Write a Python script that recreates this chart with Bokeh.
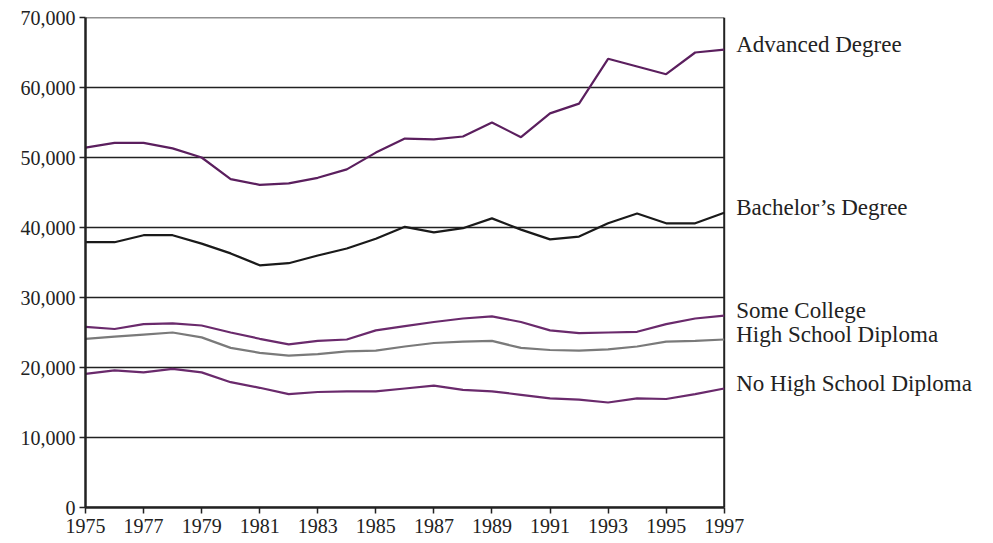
from bokeh.plotting import figure
from bokeh.models import Range1d, FixedTicker, NumeralTickFormatter
from bokeh.core.properties import value
from bokeh.embed import file_html
from bokeh.resources import INLINE

years = list(range(1975, 1998))
advanced = [51400, 52100, 52100, 51300, 50000, 46900, 46100, 46300, 47100, 48300, 50700, 52700,
            52600, 53000, 55000, 52900, 56300, 57700, 64100, 63000, 61900, 65000, 65400]
bachelor = [37900, 37900, 38900, 38900, 37700, 36300, 34600, 34900, 36000, 37000, 38400, 40100,
            39300, 39900, 41300, 39700, 38300, 38700, 40600, 42000, 40600, 40600, 42100]
some_college = [25800, 25500, 26200, 26300, 26000, 25000, 24100, 23300, 23800, 24000, 25300, 25900,
                26500, 27000, 27300, 26500, 25300, 24900, 25000, 25100, 26200, 27000, 27400]
hs_diploma = [24100, 24400, 24700, 25000, 24300, 22800, 22100, 21700, 21900, 22300, 22400, 23000,
              23500, 23700, 23800, 22800, 22500, 22400, 22600, 23000, 23700, 23800, 24000]
no_hs = [19100, 19600, 19300, 19800, 19300, 17900, 17100, 16200, 16500, 16600, 16600, 17000,
         17400, 16800, 16600, 16100, 15600, 15400, 15000, 15600, 15500, 16200, 17000]

series_names = ["Advanced Degree", "Bachelor\u2019s Degree", "Some College",
                "High School Diploma", "No High School Diploma"]
series_values = [advanced, bachelor, some_college, hs_diploma, no_hs]
series_colors = ["#5b1f5e", "#1a1a1a", "#6a2a6c", "#7a7a7a", "#6a2a6c"]

x_ticks = list(range(1975, 1998, 2))
y_ticks = list(range(0, 70001, 10000))

FONT = "Liberation Serif"
INK = "#222222"

x0, x1 = years[0], years[-1]
# extra room to the right of the last year for the series labels
x_end = x1 + 9.0

p = figure(width=990, height=540, output_backend="svg", toolbar_location=None,
           x_range=Range1d(x0, x_end), y_range=Range1d(y_ticks[0], y_ticks[-1]),
           min_border_left=85, min_border_right=5, min_border_top=17, min_border_bottom=33)
p.outline_line_color = None
p.xgrid.visible = False
p.ygrid.visible = False

# horizontal rules at each y tick, spanning the data years only
p.segment(x0=[x0] * len(y_ticks), x1=[x1] * len(y_ticks), y0=y_ticks, y1=y_ticks,
          line_color=INK, line_width=1.5)
# right frame edge
p.segment(x0=[x1], x1=[x1], y0=[y_ticks[0]], y1=[y_ticks[-1]], line_color=INK, line_width=2)

for vals, col in zip(series_values, series_colors):
    p.line(years, vals, line_color=col, line_width=2.2)

p.xaxis.ticker = FixedTicker(ticks=x_ticks)
p.xaxis.bounds = (x0, x1)
p.yaxis.ticker = FixedTicker(ticks=y_ticks)
p.yaxis.formatter = NumeralTickFormatter(format="0,0")
for ax in (p.xaxis, p.yaxis):
    ax.axis_line_color = INK
    ax.axis_line_width = 2.5
    ax.major_tick_line_color = INK
    ax.major_tick_line_width = 1.5
    ax.major_tick_in = 0
    ax.major_tick_out = 6
    ax.minor_tick_line_color = None
    ax.major_label_text_font = FONT
    ax.major_label_text_font_size = "20px"
    ax.major_label_text_color = INK
p.xaxis.major_label_standoff = 5
p.yaxis.major_label_standoff = 4

p.text(x=[x1] * len(series_names), y=[v[-1] for v in series_values], text=series_names,
       x_offset=12, y_offset=-5, text_font=value(FONT), text_font_size="23px",
       text_color=INK, text_baseline="middle", text_align="left")

open("out.html", "w").write(file_html(p, INLINE))
